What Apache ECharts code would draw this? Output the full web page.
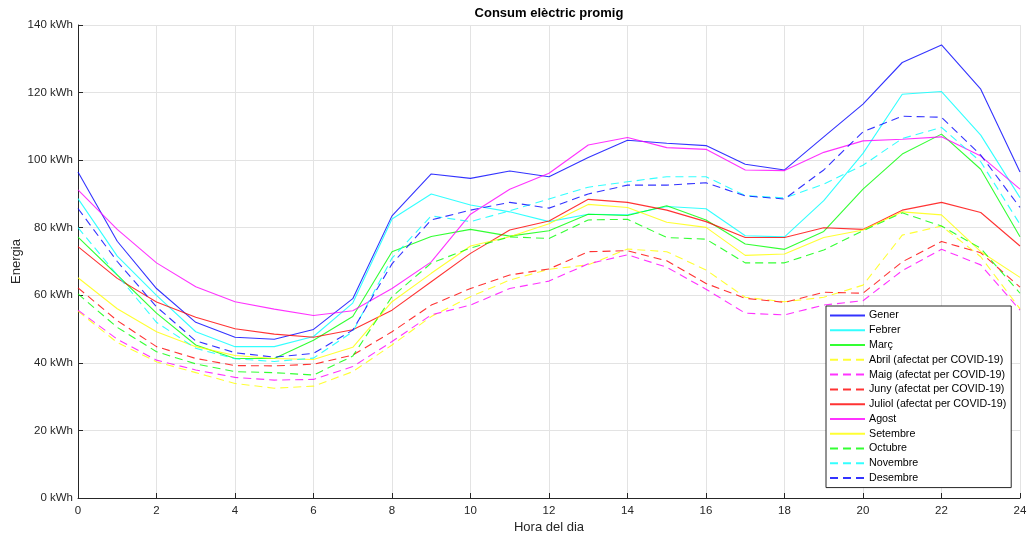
<!DOCTYPE html>
<html>
<head>
<meta charset="utf-8">
<script src="https://cdn.jsdelivr.net/npm/echarts@6/dist/echarts.min.js"></script>
<style>
  html, body { margin: 0; padding: 0; background: #fff; overflow: hidden; }
  #chart { width: 1028px; height: 536px; }
</style>
</head>
<body>
<div id="chart"></div>
<script>
const hours = [0, 1, 2, 3, 4, 5, 6, 7, 8, 9, 10, 11, 12, 13, 14, 15, 16, 17, 18, 19, 20, 21, 22, 23, 24];

const gener    = [96.5, 76, 62, 52, 47.6, 47, 49.9, 59, 83.5, 95.9, 94.6, 96.8, 95.1, 100.8, 105.9, 105, 104.3, 98.8, 97.1, 106.9, 116.6, 128.9, 134.1, 121, 96.5];
const febrer   = [88.6, 71.6, 60, 49.2, 44.8, 44.8, 47.8, 57.7, 82.6, 90, 86.7, 84.7, 81.8, 84, 83.8, 86.3, 85.6, 77.6, 77.3, 88, 102, 119.5, 120.3, 107.4, 88.9];
const marc     = [77.2, 66, 54.7, 45.3, 41.3, 41.3, 46.7, 53.7, 72.9, 77.4, 79.5, 77.5, 79.1, 84, 83.6, 86.5, 82.3, 75.2, 73.6, 78.9, 91.4, 101.8, 107.7, 97.3, 77.3];
const abril    = [55.3, 46, 40.3, 37.1, 33.9, 32.5, 33.1, 37.4, 45.3, 53.7, 59.6, 64.5, 67.7, 69, 73.7, 72.9, 67.5, 59.4, 58.1, 59.4, 63, 77.8, 80.5, 71.4, 56];
const maig     = [55.6, 47, 40.8, 37.9, 35.7, 34.9, 35.1, 38.9, 46.3, 54.2, 57.1, 62, 64.2, 69.3, 72, 68.3, 61.8, 54.7, 54.2, 57.1, 58.4, 67.3, 73.6, 69, 55.6];
const juny     = [62.2, 52.5, 44.8, 41.3, 39.2, 39.1, 39.6, 42.3, 49.2, 57.1, 62, 66, 67.8, 72.9, 73.2, 70.2, 63.5, 59.1, 57.9, 60.9, 60.6, 69.9, 75.9, 72.6, 62.4];
const juliol   = [74.4, 65, 58, 53.5, 50.1, 48.5, 47.6, 49.8, 55.6, 64, 72.4, 79.3, 82, 88.4, 87.5, 85.2, 81.8, 77.1, 77.1, 80, 79.5, 85.2, 87.5, 84.5, 74.6];
const agost    = [91.2, 79.5, 69.6, 62.5, 58.1, 55.9, 54, 55.4, 62, 69.9, 84, 91.4, 96.1, 104.5, 106.7, 103.7, 103.2, 97.1, 96.9, 102.3, 105.7, 106.2, 106.9, 101.2, 91.4];
const setembre = [65.2, 56, 49.2, 44.8, 42.2, 41.3, 41, 44.6, 58.1, 66.5, 74.6, 77.3, 81.2, 86.9, 86, 81.6, 80.1, 71.8, 72.2, 77.1, 79.3, 84.7, 83.8, 72.9, 65.3];
const octubre  = [60.4, 50.5, 43.3, 39.7, 37.4, 37.1, 36.4, 42, 59.6, 69.5, 74, 77.3, 76.8, 82.3, 82.5, 77.1, 76.6, 69.6, 69.6, 73.4, 79.1, 84.4, 80.5, 73.9, 60.6];
const novembre = [80, 66, 52, 44.3, 41.2, 40.4, 41.4, 49.2, 71, 83.5, 81.8, 85, 88.5, 92, 93.6, 95.1, 95.1, 89.5, 88.8, 92.9, 98.5, 106.4, 109.7, 99.5, 81];
const desembre = [85.7, 70, 56.6, 46.5, 43, 41.7, 42.8, 49.7, 69.3, 82.3, 85.2, 87.5, 85.8, 90, 92.6, 92.6, 93.3, 89.4, 88.5, 97.1, 108.4, 113, 112.7, 101.5, 86];

const seriesNames = ['Gener', 'Febrer', 'Març', 'Abril (afectat per COVID-19)', 'Maig (afectat per COVID-19)',
  'Juny (afectat per COVID-19)', 'Juliol (afectat per COVID-19)', 'Agost', 'Setembre', 'Octubre', 'Novembre', 'Desembre'];
const seriesValues = [gener, febrer, marc, abril, maig, juny, juliol, agost, setembre, octubre, novembre, desembre];
const seriesColors = ['#0000ff', '#00ffff', '#00ff00', '#ffff00', '#ff00ff', '#ff0000', '#ff0000', '#ff00ff', '#ffff00', '#00ff00', '#00ffff', '#0000ff'];
const seriesDashed = [false, false, false, true, true, true, false, false, false, true, true, true];

const yTickValues = [0, 20, 40, 60, 80, 100, 120, 140];

const FONT = '"Liberation Sans", Arial, Helvetica, sans-serif';
const chart = echarts.init(document.getElementById('chart'), null, { renderer: 'canvas', width: 1028, height: 536 });

const series = seriesNames.map((name, i) => ({
  name: name,
  type: 'line',
  symbol: 'none',
  showSymbol: false,
  silent: true,
  data: hours.map((h, j) => [h, seriesValues[i][j]]),
  itemStyle: { color: seriesColors[i] },
  lineStyle: {
    color: seriesColors[i],
    width: 1.1,
    opacity: 0.8,
    type: seriesDashed[i] ? [8, 5] : 'solid'
  }
}));

chart.setOption({
  animation: false,
  backgroundColor: '#ffffff',
  textStyle: { fontFamily: FONT },
  graphic: [{
    type: 'text',
    x: 549,
    y: 13,
    silent: true,
    style: {
      text: 'Consum elèctric promig',
      font: 'bold 13px ' + FONT,
      fill: '#000000',
      textAlign: 'center',
      textVerticalAlign: 'middle'
    }
  }],
  grid: { left: 78, right: 8, top: 25, bottom: 38, containLabel: false, outerBoundsMode: 'none' },
  legend: {
    orient: 'vertical',
    left: 826,
    top: 306,
    padding: [4, 5, 4, 3],
    itemWidth: 35,
    itemHeight: 11,
    itemGap: 3.78,
    backgroundColor: '#ffffff',
    borderColor: '#262626',
    borderWidth: 1,
    borderRadius: 0,
    itemStyle: { color: 'transparent', borderColor: 'transparent', borderWidth: 0, opacity: 0 },
    textStyle: { fontFamily: FONT, fontSize: 10.7, color: '#000000', lineHeight: 11, padding: [0, 0, 0, -1] },
    data: seriesNames
  },
  xAxis: {
    type: 'value',
    min: 0,
    max: 24,
    interval: 2,
    name: 'Hora del dia',
    nameLocation: 'middle',
    nameGap: 23,
    nameMoveOverlap: false,
    nameTextStyle: { fontFamily: FONT, fontSize: 13, color: '#262626' },
    axisLine: { show: true, onZero: false, lineStyle: { color: '#262626', width: 1 } },
    axisTick: { show: true, inside: true, length: 5, lineStyle: { color: '#262626' } },
    axisLabel: { fontFamily: FONT, fontSize: 11.5, color: '#262626', margin: 7 },
    splitLine: { show: true, lineStyle: { color: '#e3e3e3', width: 1 } }
  },
  yAxis: {
    type: 'value',
    min: 0,
    max: 140,
    interval: 20,
    name: 'Energia',
    nameLocation: 'middle',
    nameGap: 55,
    nameMoveOverlap: false,
    nameTextStyle: { fontFamily: FONT, fontSize: 13, color: '#262626' },
    axisLine: { show: true, lineStyle: { color: '#262626', width: 1 } },
    axisTick: { show: true, inside: true, length: 5, lineStyle: { color: '#262626' } },
    axisLabel: {
      fontFamily: FONT, fontSize: 11.5, color: '#262626', margin: 5,
      formatter: v => (yTickValues.indexOf(v) >= 0 ? v + ' kWh' : '')
    },
    splitLine: { show: true, lineStyle: { color: '#e3e3e3', width: 1 } }
  },
  series: series
});
</script>
</body>
</html>
